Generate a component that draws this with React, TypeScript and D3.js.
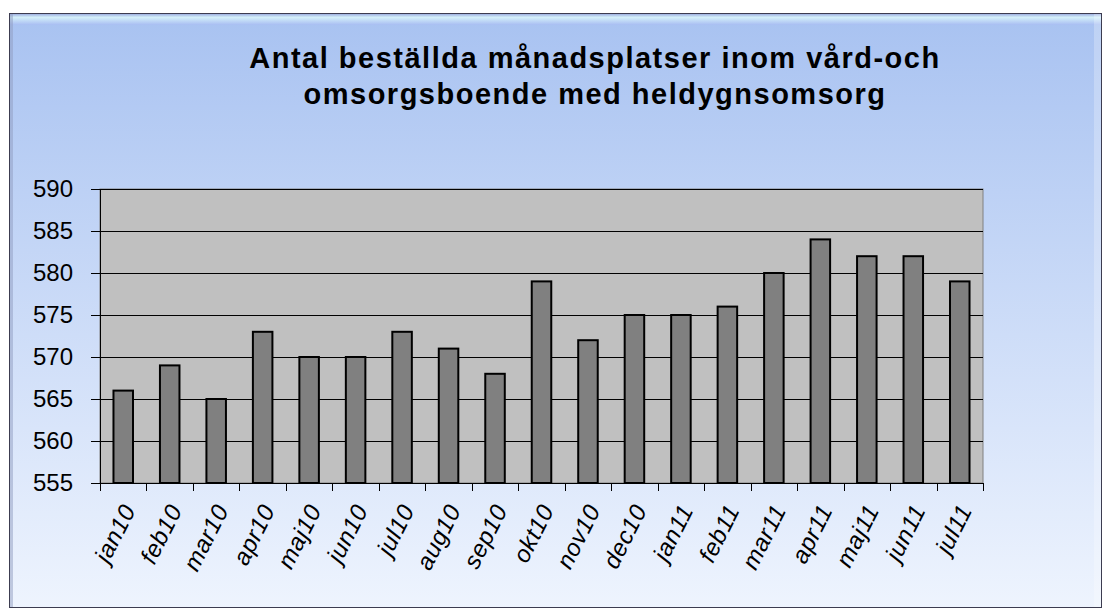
import * as React from 'react';
import {useEffect, useRef} from 'react';
import * as d3 from 'd3';

const months = ['jan10', 'feb10', 'mar10', 'apr10', 'maj10', 'jun10', 'jul10', 'aug10', 'sep10', 'okt10',
    'nov10', 'dec10', 'jan11', 'feb11', 'mar11', 'apr11', 'maj11', 'jun11', 'jul11'];
const platser = [566, 569, 565, 573, 570, 570, 573, 571, 568, 579, 572, 575, 575, 576, 580, 584, 582, 582, 579];
const yTicks = [555, 560, 565, 570, 575, 580, 585, 590];
const titleLines = ['Antal beställda månadsplatser inom vård-och', 'omsorgsboende med heldygnsomsorg'];

const W = 1103;
const H = 609;
const FONT = 'Arial, "Liberation Sans", Helvetica, sans-serif';

export default function App() {
    const ref = useRef<SVGSVGElement>(null);

    useEffect(() => {
        const svg = d3.select(ref.current);
        svg.selectAll('*').remove();

        const margin = {top: 189, left: 100, right: 120, bottom: 126};
        const innerW = W - margin.left - margin.right;
        const innerH = H - margin.top - margin.bottom;

        const defs = svg.append('defs');
        const bg = defs.append('linearGradient').attr('id', 'bg').attr('x1', 0).attr('y1', 0).attr('x2', 0).attr('y2', 1);
        bg.append('stop').attr('offset', '0%').attr('stop-color', '#a8c2f1');
        bg.append('stop').attr('offset', '100%').attr('stop-color', '#eef4fe');
        const bevel = defs.append('linearGradient').attr('id', 'bevel').attr('x1', 0).attr('y1', 0).attr('x2', 0).attr('y2', 1);
        bevel.append('stop').attr('offset', '0%').attr('stop-color', '#9fb0e0');
        bevel.append('stop').attr('offset', '30%').attr('stop-color', '#d4f0fa');
        bevel.append('stop').attr('offset', '100%').attr('stop-color', '#a8bdf2');

        // frame
        svg.append('rect').attr('x', 9.5).attr('y', 13.5).attr('width', 1092).attr('height', 594)
            .attr('fill', 'url(#bg)').attr('stroke', '#3c3c50').attr('stroke-width', 1);
        svg.append('rect').attr('x', 10).attr('y', 14).attr('width', 1091).attr('height', 11)
            .attr('fill', 'url(#bevel)');
        svg.append('rect').attr('x', 10).attr('y', 14).attr('width', 3).attr('height', 593)
            .attr('fill', '#8f9bc0').attr('opacity', 0.5);
        svg.append('rect').attr('x', 1094).attr('y', 14).attr('width', 7).attr('height', 593)
            .attr('fill', '#ffffff').attr('opacity', 0.25);

        // title
        svg.append('g').selectAll('text')
            .data(titleLines)
            .enter()
            .append('text')
            .attr('x', 595)
            .attr('y', (d, i) => 68 + i * 36)
            .attr('text-anchor', 'middle')
            .attr('font-family', FONT)
            .attr('font-weight', 'bold')
            .attr('font-size', 29)
            .attr('letter-spacing', 1.5)
            .attr('fill', '#000')
            .text(d => d);

        const xScale = d3.scaleBand<string>()
            .domain(months)
            .range([0, innerW])
            .paddingInner(0.58)
            .paddingOuter(0.29);

        const yScale = d3.scaleLinear()
            .domain([555, 590])
            .range([innerH, 0]);

        const chart = svg.append('g')
            .attr('transform', `translate(${margin.left}, ${margin.top})`);

        chart.append('rect')
            .attr('width', innerW)
            .attr('height', innerH)
            .attr('fill', '#c0c0c0')
            .attr('stroke', '#808080')
            .attr('stroke-width', 1);

        chart.selectAll('.grid')
            .data(yTicks)
            .enter()
            .append('line')
            .attr('class', 'grid')
            .attr('x1', 0)
            .attr('x2', innerW)
            .attr('y1', d => Math.round(yScale(d)) + 0.5)
            .attr('y2', d => Math.round(yScale(d)) + 0.5)
            .attr('stroke', '#000')
            .attr('stroke-width', 1.2);

        chart.selectAll('.bar')
            .data(platser)
            .enter()
            .append('rect')
            .attr('class', 'bar')
            .attr('x', (d, i) => xScale(months[i]) as number)
            .attr('y', d => yScale(d))
            .attr('width', xScale.bandwidth())
            .attr('height', d => yScale(555) - yScale(d))
            .attr('fill', '#808080')
            .attr('stroke', '#000')
            .attr('stroke-width', 2);

        // y axis
        const yAxis = d3.axisLeft(yScale).tickValues(yTicks).tickSize(9).tickPadding(18).tickFormat(d3.format('d'));
        const yg = chart.append('g').call(yAxis);
        yg.select('.domain').attr('stroke', '#000').attr('d', `M0.5,0V${innerH}`);
        yg.selectAll('line').attr('stroke', '#000');
        yg.selectAll('text')
            .attr('font-family', FONT)
            .attr('font-size', 24)
            .attr('fill', '#000');

        // x axis
        const step = innerW / months.length;
        const xg = chart.append('g').attr('transform', `translate(0, ${innerH})`);
        xg.append('line').attr('x1', 0).attr('x2', innerW).attr('y1', 0.5).attr('y2', 0.5).attr('stroke', '#000');
        xg.selectAll('.tick')
            .data(d3.range(months.length + 1))
            .enter()
            .append('line')
            .attr('x1', d => Math.round(d * step) + 0.5)
            .attr('x2', d => Math.round(d * step) + 0.5)
            .attr('y1', 0)
            .attr('y2', 8)
            .attr('stroke', '#000');

        xg.selectAll('.lbl')
            .data(months)
            .enter()
            .append('text')
            .attr('class', 'lbl')
            .attr('transform', d => `translate(${(xScale(d) as number) + xScale.bandwidth() / 2 + 13}, 27) rotate(-63)`)
            .attr('text-anchor', 'end')
            .attr('font-family', FONT)
            .attr('font-style', 'italic')
            .attr('font-size', 24)
            .attr('letter-spacing', 0.5)
            .attr('fill', '#000')
            .text(d => d);
    }, []);

    return (
        <svg ref={ref} width={W} height={H}
             style={{position: 'absolute', left: 0, top: 0, background: '#fff'}}/>
    );
}
